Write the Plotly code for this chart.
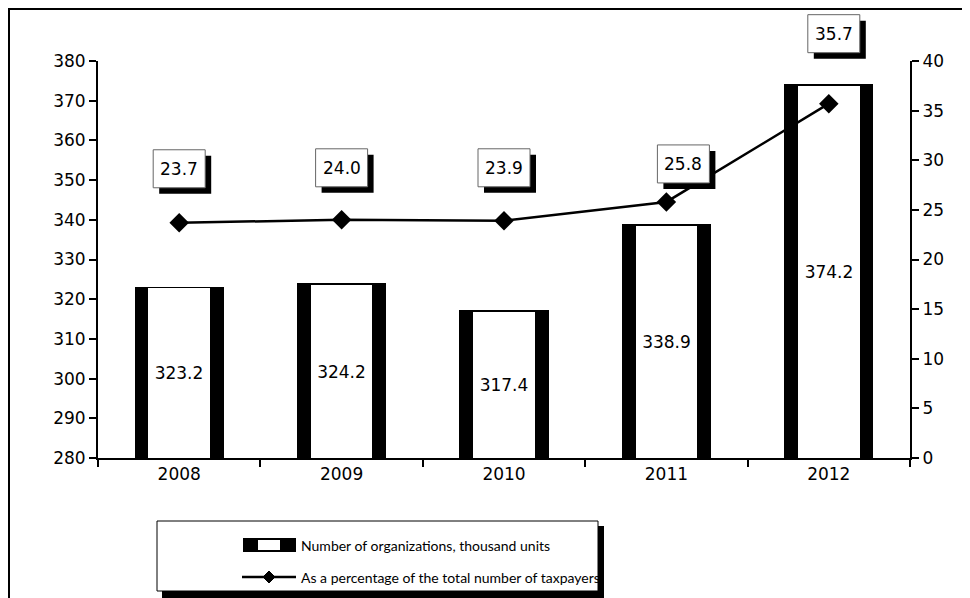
import plotly.graph_objs as go

years = ["2008", "2009", "2010", "2011", "2012"]
organizations = [323.2, 324.2, 317.4, 338.9, 374.2]
share_pct = [23.7, 24.0, 23.9, 25.8, 35.7]
share_labels = ["23.7", "24.0", "23.9", "25.8", "35.7"]
legend_names = ["Number of organizations, thousand units",
                "As a percentage of the total number of taxpayers"]

# label box offsets (px) as placed in the source chart
lab_dx = [0, 0, 0, 17, 5]
lab_dy = [54, 52, 53, 38, 70]

left_base = 280
pct_range = [0, 40]
tick_font = dict(family="DejaVu Sans", size=17, color="black")

# page body has an 8px margin, so the figure is shifted by that much
def px_x(p):
    return (p - 98) / 812

def px_y(p):
    return (458 - p) / 397

# outer black part of bar
bar_outer = go.Bar(x=years, y=[v - left_base for v in organizations], base=left_base,
                   width=0.55, marker=dict(color="black", line=dict(width=0)),
                   name=legend_names[0], hoverinfo="skip")
# white core of bar with the value label
bar_inner = go.Bar(x=years, y=[v - left_base - 0.5 for v in organizations], base=left_base,
                   width=0.38, marker=dict(color="white", line=dict(width=0)),
                   text=[f"{v:.1f}" for v in organizations], textposition="inside",
                   insidetextanchor="middle", textangle=0, constraintext="none",
                   textfont=dict(family="DejaVu Sans", size=17, color="black"))
line = go.Scatter(x=years, y=share_pct, yaxis="y2", mode="lines+markers",
                  line=dict(color="black", width=2.5),
                  marker=dict(symbol="diamond", size=15, color="black"),
                  name=legend_names[1])

fig = go.Figure([bar_outer, bar_inner, line])

ann = []
shapes = []
bw, bh = 26, 19  # half size of label box, px
for i in range(len(years)):
    dx, dy = lab_dx[i], lab_dy[i]
    # y in paper units so the box isn't clipped above the plot area
    ya = (share_pct[i] - pct_range[0]) / (pct_range[1] - pct_range[0])
    shapes.append(dict(type="rect", xref="x", yref="paper", xsizemode="pixel", ysizemode="pixel",
                       xanchor=i, yanchor=ya,
                       x0=dx - bw + 6, x1=dx + bw + 6, y0=dy - bh - 6, y1=dy + bh - 6,
                       fillcolor="black", line=dict(width=0), layer="above"))
    shapes.append(dict(type="rect", xref="x", yref="paper", xsizemode="pixel", ysizemode="pixel",
                       xanchor=i, yanchor=ya,
                       x0=dx - bw, x1=dx + bw, y0=dy - bh, y1=dy + bh,
                       fillcolor="white", line=dict(color="#666", width=1), layer="above"))
    ann.append(dict(x=i, y=share_pct[i], xref="x", yref="y2", text=share_labels[i], showarrow=False,
                    xshift=dx, yshift=dy, font=dict(family="DejaVu Sans", size=17, color="black")))

# hand-drawn legend texts
for name, yy in zip(legend_names, [545, 577]):
    ann.append(dict(xref="paper", yref="paper", x=px_x(299), y=px_y(yy), xanchor="left", yanchor="middle",
                    text=name, showarrow=False, font=dict(family="Lato", size=14, color="black")))

shapes += [
    # outer frame
    dict(type="rect", xref="paper", yref="paper", x0=px_x(9), x1=px_x(990), y0=px_y(640), y1=px_y(9),
         line=dict(color="black", width=2), layer="below"),
    # legend box shadow and box
    dict(type="rect", xref="paper", yref="paper", x0=px_x(162), x1=px_x(604), y0=px_y(600), y1=px_y(526),
         fillcolor="black", line=dict(width=0), layer="below"),
    dict(type="rect", xref="paper", yref="paper", x0=px_x(157), x1=px_x(598), y0=px_y(591), y1=px_y(521),
         fillcolor="white", line=dict(color="black", width=1), layer="below"),
    # legend symbols
    dict(type="rect", xref="paper", yref="paper", x0=px_x(243), x1=px_x(296), y0=px_y(552), y1=px_y(538),
         fillcolor="black", line=dict(width=0)),
    dict(type="rect", xref="paper", yref="paper", x0=px_x(258), x1=px_x(280), y0=px_y(550), y1=px_y(540),
         fillcolor="white", line=dict(width=0)),
    dict(type="line", xref="paper", yref="paper", x0=px_x(242), x1=px_x(296), y0=px_y(577), y1=px_y(577),
         line=dict(color="black", width=2.5)),
    dict(type="path", xref="paper", yref="paper",
         path=f"M {px_x(269)} {px_y(571)} L {px_x(275)} {px_y(577)} L {px_x(269)} {px_y(583)} "
              f"L {px_x(263)} {px_y(577)} Z",
         fillcolor="black", line=dict(color="black", width=1)),
]

fig.update_layout(
    width=962, height=590,
    margin=dict(l=90, r=60, t=53, b=140),
    paper_bgcolor="white", plot_bgcolor="rgba(0,0,0,0)",
    barmode="overlay", bargap=0,
    showlegend=False,
    xaxis=dict(type="category", range=[-0.5, 4.5], automargin=False,
               showline=True, linecolor="black", linewidth=2,
               ticks="outside", tickson="boundaries", ticklen=7, tickwidth=1.5, tickcolor="black",
               tickfont=tick_font, showgrid=False, zeroline=False),
    yaxis=dict(range=[280, 380], dtick=10, automargin=False, showline=True, linecolor="black", linewidth=2,
               ticks="outside", ticklen=7, tickwidth=1.5, tickcolor="black",
               tickfont=tick_font, showgrid=False, zeroline=False),
    yaxis2=dict(range=pct_range, dtick=5, overlaying="y", side="right", automargin=False,
                showline=True, linecolor="black", linewidth=2,
                ticks="outside", ticklen=7, tickwidth=1.5, tickcolor="black",
                tickfont=tick_font, showgrid=False, zeroline=False),
    annotations=ann, shapes=shapes,
)

fig.write_html("out.html")
